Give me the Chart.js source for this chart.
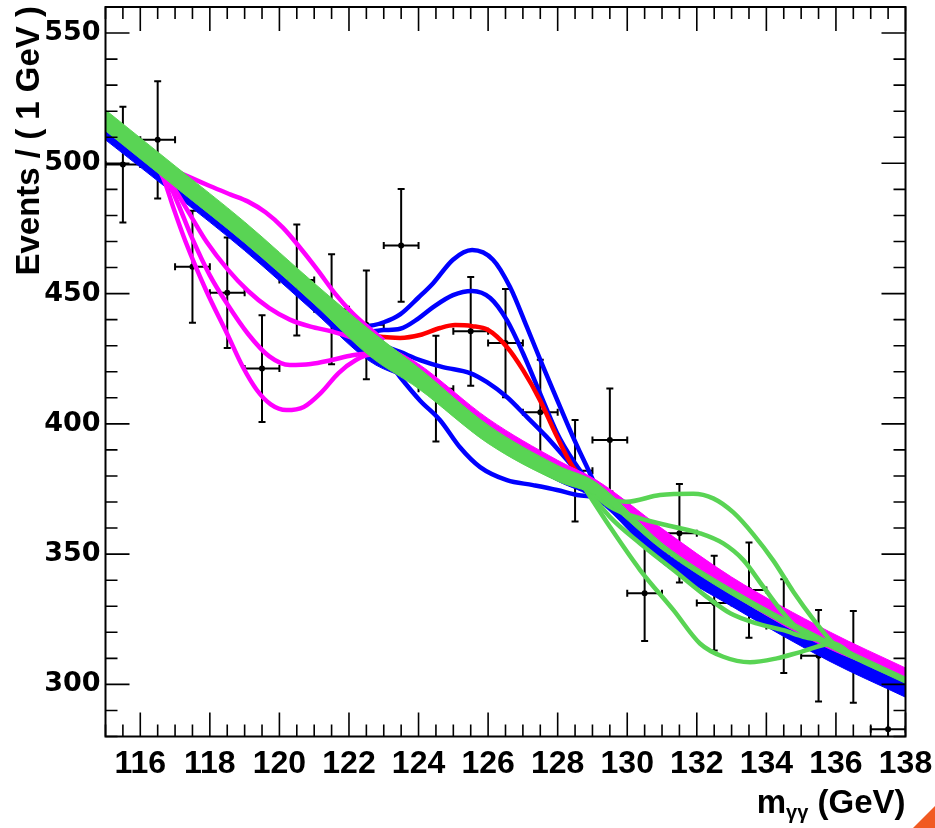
<!DOCTYPE html>
<html lang="en">
<head>
<meta charset="UTF-8">
<title>Diphoton mass fits</title>
<script src="https://cdn.jsdelivr.net/npm/chart.js"></script>
<style>
  html, body { margin: 0; padding: 0; background: #fff; }
</style>
</head>
<body>
<canvas id="fitChart" width="935" height="828"></canvas>
<script>
// data: events per 1 GeV bin
const binCenters = [115.5, 116.5, 117.5, 118.5, 119.5, 120.5, 121.5, 122.5, 123.5, 124.5, 125.5, 126.5,
                    127.5, 128.5, 129.5, 130.5, 131.5, 132.5, 133.5, 134.5, 135.5, 136.5, 137.5];
const events = [499.5, 509, 460.3, 450.3, 421.2, 455.2, 444, 438, 468.5, 413.5, 435.5, 431,
                404.5, 382, 393.8, 335, 358, 331.2, 336.2, 322.4, 311, 310.6, 282.8];
const errors = [22.2, 22.5, 21.5, 21.2, 20.5, 21.3, 21.1, 20.9, 21.6, 20.3, 20.9, 20.8,
                20.1, 19.5, 19.8, 18.3, 18.9, 18.2, 18.3, 18.0, 17.6, 17.6, 16.8];
const binHalf = 0.5;

const xTicks = [116, 118, 120, 122, 124, 126, 128, 130, 132, 134, 136, 138];
const yTicks = [300, 350, 400, 450, 500, 550];

// background-only fits, drawn as bands (upper / lower edge)
const bandX   = [115, 117, 119, 121, 122.6, 124, 126, 128, 129.1, 131, 133, 135.8, 138];
const greenHi = [520.5, 499, 477.5, 454, 436, 421.5, 399.5, 384, 377.5, 354.2, 336.7, 316.7, 302.8];
const greenLo = [512.5, 491, 469.5, 446, 426, 413.5, 392.5, 378, 372.5, 351.8, 334.3, 314.3, 300.4];
const blueHi  = [512.5, 491, 469.5, 446, 427, 419, 397, 382, 375, 351.6, 335, 314, 300.5];
const blueLo  = [509, 488, 466.5, 443, 424, 415, 393, 378, 371, 346.6, 330, 309, 295.1];
const magHi   = [518, 497, 475.5, 452, 434, 423, 402, 386, 378.5, 359.8, 341.2, 320.3, 306.3];
const magLo   = [514, 493, 471.5, 448, 430, 418, 397, 382, 374.5, 353.2, 334.6, 313.7, 302.4];

// signal + background fits near 125.5 (blue / red)
const blue1X = [121.8, 122.5, 123.0, 123.47, 124.0, 124.42, 124.99, 125.54, 126.14, 126.63, 127.12, 127.58, 128.07, 128.44, 128.84, 129.13, 129.6];
const blue1Y = [441, 437.5, 439, 442, 448.5, 454, 463, 466.7, 463, 452.5, 437, 422, 406.5, 395, 383.5, 375.7, 370.5];
const blue2X = [121.8, 122.6, 123.0, 123.47, 124.0, 124.42, 124.99, 125.54, 126.06, 126.54, 127.0, 127.49, 127.98, 128.44, 128.93, 129.6];
const blue2Y = [441, 435.5, 436, 436.5, 440.5, 444.8, 449.4, 451, 448.3, 439.8, 427.2, 411.8, 396.5, 386, 377.3, 370.5];
const redX   = [121.8, 122.6, 123.0, 123.47, 124.04, 124.62, 125.05, 125.54, 126.0, 126.54, 127.0, 127.49, 127.98, 128.44, 128.84, 129.6];
const redY   = [441, 434.5, 433.3, 433, 434.1, 436.8, 437.9, 437.5, 436, 429.5, 420.7, 409.1, 395.1, 383.4, 377.3, 370.5];
const blue3X = [121.8, 122.6, 123.1, 123.47, 124.04, 124.7, 125.48, 125.97, 126.54, 127.12, 127.69, 128.27, 128.84, 129.6];
const blue3Y = [440, 432, 429.5, 427.6, 424.5, 421.8, 419.5, 416, 410.3, 402.6, 394.9, 386.1, 377.3, 370.5];
const blue4X = [121.8, 122.6, 123.18, 123.47, 124.04, 124.62, 125.19, 125.77, 126.54, 127.29, 127.98, 128.56, 129.22, 129.8];
const blue4Y = [439, 429, 423, 418, 409, 401.4, 391, 383.4, 378.4, 376.5, 374.6, 372.7, 371.5, 368];

// signal + background fits near 120 (magenta)
const mag1X = [116.2, 116.8, 117.4, 118.0, 118.6, 119.1, 119.6, 120.1, 120.6, 121.1, 121.6, 122.1, 122.6, 123.0];
const mag1Y = [503.5, 498.5, 494.8, 491.3, 488, 485.3, 481.2, 475.3, 467.5, 459, 450, 442.5, 436.5, 432];
const mag2X = [116.4, 116.9, 117.4, 117.9, 118.5, 119.1, 119.7, 120.3, 120.9, 121.5, 122.1, 122.6, 123.0];
const mag2Y = [501, 492, 481, 470, 459.5, 451, 444.5, 440, 437.3, 435.5, 433, 430, 426];
const mag3X = [116.4, 116.8, 117.1, 117.5, 118.0, 118.5, 119.1, 119.7, 120.3, 120.9, 121.5, 122.1, 122.6, 123.0];
const mag3Y = [501, 493, 484, 471, 457, 446, 434.5, 426, 422.6, 423, 424.5, 426.3, 427, 424];
const mag4X = [116.4, 116.7, 116.95, 117.3, 117.9, 118.5, 118.95, 119.35, 119.75, 120.2, 120.7, 121.2, 121.7, 122.2, 122.6, 123.0];
const mag4Y = [501, 493, 483, 470, 451, 434.5, 421.8, 413, 407.5, 405.3, 406.5, 412, 419.5, 424.5, 426.5, 424];

// signal + background fits near 132 (green)
const green1X = [128.6, 129.31, 129.98, 130.94, 131.9, 132.47, 133.05, 133.63, 134.2, 134.78, 135.35, 135.93, 136.5];
const green1Y = [379, 372, 370.1, 372.7, 373.2, 371.4, 366, 357.5, 347.5, 335.5, 325, 315.7, 311];
const green2X = [128.6, 129.5, 130.37, 131.33, 132.09, 132.76, 133.34, 133.91, 134.49, 135.06, 135.93, 136.5];
const green2Y = [379, 368.2, 363.7, 360.5, 358, 354.1, 347.7, 337.5, 327.3, 319.6, 315.7, 311];
const green3X = [128.6, 129.5, 130.37, 131.33, 132.29, 132.96, 133.72, 134.49, 135.06, 135.93, 136.5];
const green3Y = [379, 364.3, 354.1, 343.9, 333.6, 327.3, 323.4, 320.8, 318.3, 315.7, 311];
const green4X = [128.6, 129.5, 130.37, 131.33, 132.09, 132.76, 133.53, 134.3, 135.0, 135.93, 136.5];
const green4Y = [379, 360.5, 343.9, 328.5, 315.7, 310.6, 308.5, 310, 312.5, 315.7, 311];

const BLUE = '#0000ff', RED = '#ff0000', MAGENTA = '#ff00ff', GREEN = '#59d454';

function pts(xs, ys) {
  return xs.map((x, i) => ({ x: x, y: ys[i] }));
}

function curve(xs, ys, color, order) {
  return {
    data: pts(xs, ys), borderColor: color, borderWidth: 4.5, pointRadius: 0,
    fill: false, cubicInterpolationMode: 'monotone', order: order, clip: 0
  };
}

// lower edge first, then upper edge filled down to it
function band(hi, lo, color, order) {
  return [
    { data: pts(bandX, lo), borderColor: color, borderWidth: 1, pointRadius: 0,
      fill: false, cubicInterpolationMode: 'monotone', order: order, clip: 0 },
    { data: pts(bandX, hi), borderColor: color, borderWidth: 1, pointRadius: 0,
      backgroundColor: color, fill: '-1', cubicInterpolationMode: 'monotone', order: order, clip: 0 }
  ];
}

const datasets = [
  { data: pts(binCenters, events), showLine: false, pointRadius: 3, pointBackgroundColor: '#000',
    pointBorderWidth: 0, order: 100, clip: 0 },
  curve(blue1X, blue1Y, BLUE, 60),
  curve(blue2X, blue2Y, BLUE, 60),
  curve(blue3X, blue3Y, BLUE, 60),
  curve(blue4X, blue4Y, BLUE, 60),
  curve(redX, redY, RED, 58),
  ...band(blueHi, blueLo, BLUE, 50),
  curve(mag1X, mag1Y, MAGENTA, 45),
  curve(mag2X, mag2Y, MAGENTA, 45),
  curve(mag3X, mag3Y, MAGENTA, 45),
  curve(mag4X, mag4Y, MAGENTA, 45),
  ...band(magHi, magLo, MAGENTA, 40),
  curve(green1X, green1Y, GREEN, 30),
  curve(green2X, green2Y, GREEN, 30),
  curve(green3X, green3Y, GREEN, 30),
  curve(green4X, green4Y, GREEN, 30),
  ...band(greenHi, greenLo, GREEN, 20)
];

const errorBars = {
  id: 'errorBars',
  beforeDatasetsDraw(chart) {
    const { ctx, chartArea: a, scales: { x, y } } = chart;
    ctx.save();
    ctx.beginPath();
    ctx.rect(a.left, a.top, a.right - a.left, a.bottom - a.top);
    ctx.clip();
    ctx.strokeStyle = '#000';
    ctx.lineWidth = 2;
    const cap = 3.5;
    binCenters.forEach((c, i) => {
      const px = x.getPixelForValue(c);
      const py = y.getPixelForValue(events[i]);
      const x0 = x.getPixelForValue(c - binHalf);
      const x1 = x.getPixelForValue(c + binHalf);
      const yt = y.getPixelForValue(events[i] + errors[i]);
      const yb = y.getPixelForValue(events[i] - errors[i]);
      ctx.beginPath();
      ctx.moveTo(px, yt); ctx.lineTo(px, yb);
      ctx.moveTo(x0, py); ctx.lineTo(x1, py);
      ctx.moveTo(px - cap, yt); ctx.lineTo(px + cap, yt);
      ctx.moveTo(px - cap, yb); ctx.lineTo(px + cap, yb);
      ctx.moveTo(x0, py - cap); ctx.lineTo(x0, py + cap);
      ctx.moveTo(x1, py - cap); ctx.lineTo(x1, py + cap);
      ctx.stroke();
    });
    ctx.restore();
  }
};

// ROOT style frame: inward ticks on all four sides, axis titles
const rootFrame = {
  id: 'rootFrame',
  afterDraw(chart) {
    const { ctx, chartArea: a, scales: { x, y } } = chart;
    ctx.save();
    ctx.strokeStyle = '#000';
    ctx.lineWidth = 2;
    ctx.strokeRect(a.left, a.top, a.right - a.left, a.bottom - a.top);

    ctx.beginPath();
    for (let v = x.min; v <= x.max + 1e-9; v += 0.5) {
      const px = x.getPixelForValue(v);
      const len = xTicks.includes(v) ? 24 : 12;
      ctx.moveTo(px, a.bottom); ctx.lineTo(px, a.bottom - len);
      ctx.moveTo(px, a.top); ctx.lineTo(px, a.top + len);
    }
    for (let v = y.min; v <= y.max + 1e-9; v += 10) {
      const py = y.getPixelForValue(v);
      const len = yTicks.includes(v) ? 24 : 12;
      ctx.moveTo(a.left, py); ctx.lineTo(a.left + len, py);
      ctx.moveTo(a.right, py); ctx.lineTo(a.right - len, py);
    }
    ctx.lineWidth = 1.6;
    ctx.stroke();

    // y title
    ctx.fillStyle = '#000';
    ctx.save();
    ctx.translate(30, a.top - 1);
    ctx.rotate(-Math.PI / 2);
    ctx.font = 'bold 33px "Liberation Sans"';
    ctx.textAlign = 'right';
    ctx.textBaseline = 'middle';
    ctx.fillText('Events / ( 1 GeV )', 0, 0);
    ctx.restore();

    // x title: m with subscript gamma gamma
    const base = 813;
    ctx.textBaseline = 'alphabetic';
    ctx.textAlign = 'left';
    ctx.font = 'bold 33px "Liberation Sans"';
    const tail = ' (GeV)';
    const wTail = ctx.measureText(tail).width;
    const wM = ctx.measureText('m').width;
    ctx.font = 'bold 20px "Liberation Sans"';
    const wSub = ctx.measureText('γγ').width;
    let cx = a.right - wTail - wSub - wM;
    ctx.font = 'bold 33px "Liberation Sans"';
    ctx.fillText('m', cx, base);
    cx += wM;
    ctx.font = 'bold 20px "Liberation Sans"';
    ctx.fillText('γγ', cx, base + 6);
    cx += wSub;
    ctx.font = 'bold 33px "Liberation Sans"';
    ctx.fillText(tail, cx, base);

    // orange corner mark
    ctx.fillStyle = '#f15a22';
    ctx.beginPath();
    ctx.moveTo(913, 828); ctx.lineTo(935, 806); ctx.lineTo(935, 828);
    ctx.closePath();
    ctx.fill();
    ctx.restore();
  }
};

new Chart(document.getElementById('fitChart'), {
  type: 'line',
  data: { datasets: datasets },
  options: {
    responsive: false,
    animation: false,
    events: [],
    layout: { padding: { left: 0, right: 29.5, top: 7, bottom: 0 } },
    plugins: { legend: { display: false }, tooltip: { enabled: false } },
    scales: {
      x: {
        type: 'linear', min: 115, max: 138,
        grid: { display: false, drawTicks: false },
        border: { display: false },
        ticks: { font: { family: 'Liberation Sans', size: 32, weight: 'bold' }, color: '#000',
                 padding: 8, autoSkip: false, maxRotation: 0 },
        afterBuildTicks: (s) => { s.ticks = xTicks.map(v => ({ value: v })); },
        afterFit: (s) => { s.height = 91.5; s.paddingLeft = 0; s.paddingRight = 0; }
      },
      y: {
        type: 'linear', min: 280, max: 560,
        grid: { display: false, drawTicks: false },
        border: { display: false },
        ticks: { font: { family: 'DejaVu Sans', size: 27, weight: 'bold' }, color: '#000', padding: 5 },
        afterBuildTicks: (s) => { s.ticks = yTicks.map(v => ({ value: v })); },
        afterFit: (s) => { s.width = 105.5; s.paddingTop = 0; s.paddingBottom = 0; }
      }
    }
  },
  plugins: [errorBars, rootFrame]
});
</script>
</body>
</html>
